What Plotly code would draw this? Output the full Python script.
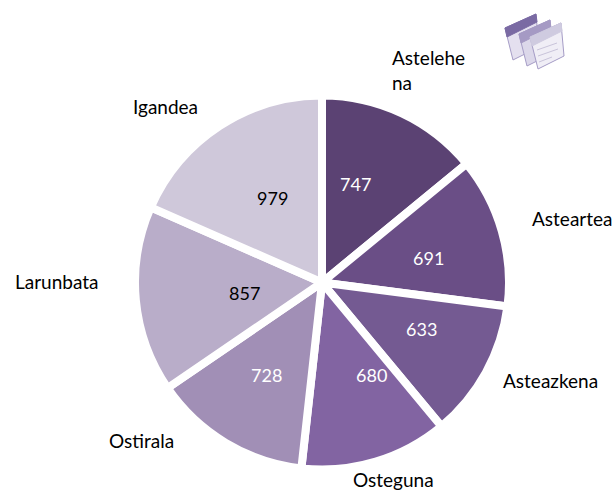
import plotly.graph_objects as go

days = ["Astelehena", "Asteartea", "Asteazkena", "Osteguna", "Ostirala", "Larunbata", "Igandea"]
values = [747, 691, 633, 680, 728, 857, 979]
colors = ["#5b4273", "#6a4e86", "#745a92", "#8264a2", "#a18fb6", "#b9adc9", "#cfc8da"]
text_colors = ["white", "white", "white", "white", "white", "black", "black"]
outside = ["Astelehe<br>na", "Asteartea", "Asteazkena", "Osteguna", "Ostirala", "Larunbata", "Igandea"]
lx = [429, 572, 550, 393, 141, 57, 165]
ly = [70, 218, 380, 479, 440, 281, 107]
vx = [355, 428, 421, 371, 266, 244, 272]
vy = [184, 258, 329, 375, 375, 293, 198]

W, H = 615, 490
cx, cy, r = 322, 282.5, 187

fig = go.Figure(go.Pie(
    labels=days, values=values, sort=False, direction="clockwise", rotation=0,
    marker=dict(colors=colors, line=dict(color="white", width=8)),
    textinfo="none", showlegend=False, hoverinfo="label+value",
    domain=dict(x=[(cx-r)/W, (cx+r)/W], y=[1-(cy+r)/H, 1-(cy-r)/H]),
))
for t, x, y in zip(outside, lx, ly):
    fig.add_annotation(text=t, x=x/W, y=1-y/H, xref="paper", yref="paper", xanchor="center", yanchor="middle",
                       align="left", showarrow=False, font=dict(size=19, color="black"))
for v, x, y, c in zip(values, vx, vy, text_colors):
    fig.add_annotation(text=str(v), x=x/W, y=1-y/H, xref="paper", yref="paper", xanchor="center", yanchor="middle",
                       showarrow=False, font=dict(size=18, color=c))

def path(p):
    return "M" + " L".join(f"{a/W:.4f},{1-b/H:.4f}" for a, b in p) + " Z"

def page(x0, y0, fill, header):
    # one sheet of the stacked-pages icon
    body = [(x0, y0+14), (x0+31, y0), (x0+34, y0+33), (x0+8, y0+46)]
    head = [(x0, y0+14), (x0+31, y0), (x0+32, y0+8), (x0+2, y0+23)]
    return [dict(type="path", xref="paper", yref="paper", path=path(body), fillcolor=fill,
                 line=dict(color="#a59cc6", width=1)),
            dict(type="path", xref="paper", yref="paper", path=path(head), fillcolor=header,
                 line=dict(color=header, width=1))]

shapes = (page(505, 14, "#e4e0ef", "#7a6aa3") + page(519, 20, "#dcd8ea", "#a59ac4")
          + page(530, 23, "#f0eef6", "#cfcbe0"))
for a, b in [((537, 50), (557, 43)), ((538, 56), (558, 49)), ((539, 62), (552, 57))]:
    shapes.append(dict(type="line", xref="paper", yref="paper", x0=a[0]/W, y0=1-a[1]/H, x1=b[0]/W, y1=1-b[1]/H,
                       line=dict(color="#c9c4da", width=1)))
fig.update_layout(width=W, height=H, margin=dict(l=0, r=0, t=0, b=0, autoexpand=False),
                  paper_bgcolor="white", shapes=shapes,
                  font=dict(family="Lato, Liberation Sans, sans-serif"))
fig.write_html("out.html", post_script="document.body.style.margin='0';", config={"displayModeBar": False})
